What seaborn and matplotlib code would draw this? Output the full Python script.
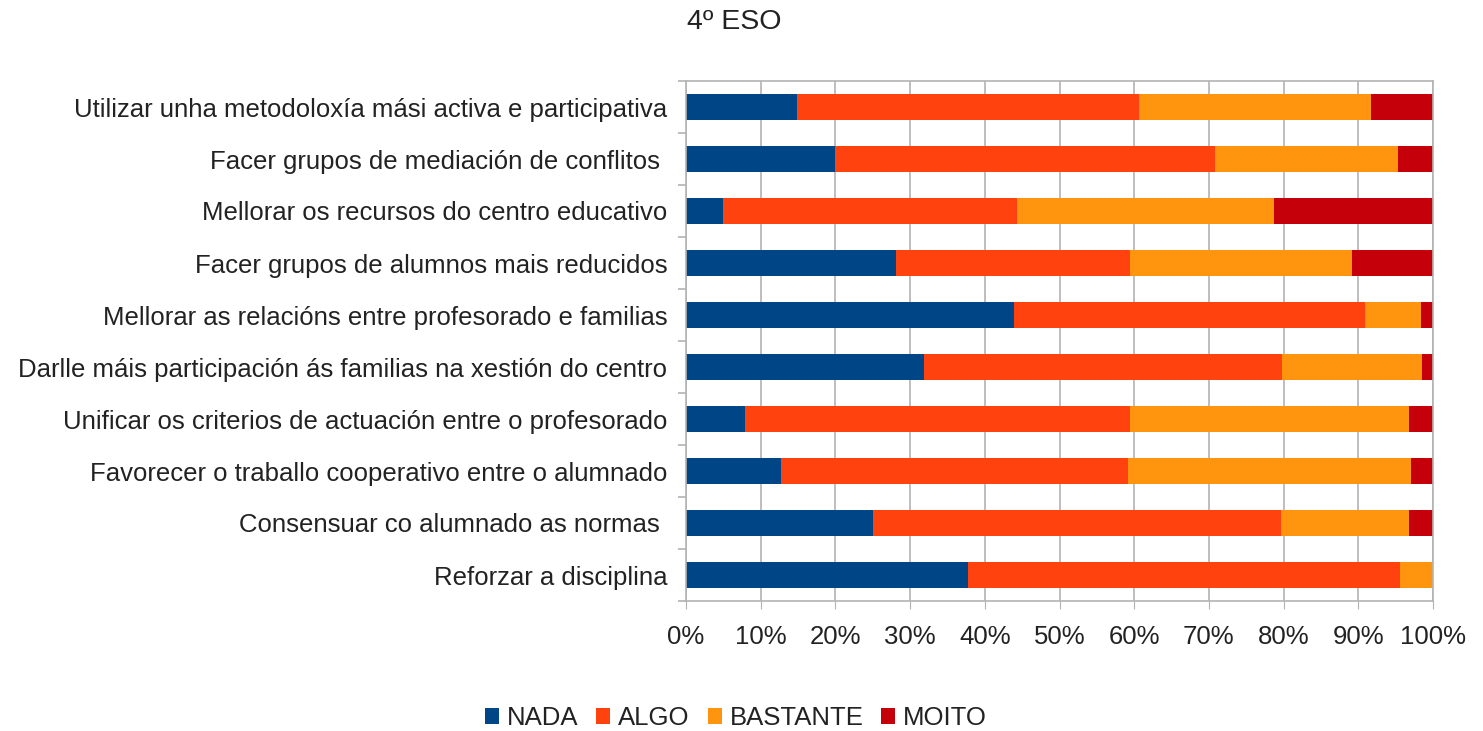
import pandas as pd
import matplotlib
matplotlib.use("Agg")
import matplotlib.pyplot as plt
from matplotlib.patches import Patch
from matplotlib.ticker import FixedLocator, PercentFormatter
import seaborn as sns

# ------------------------------------------------ Datos ------------------------------------------------

categorias = [
    "Utilizar unha metodoloxía mási activa e participativa",
    "Facer grupos de mediación de conflitos ",
    "Mellorar os recursos do centro educativo",
    "Facer grupos de alumnos mais reducidos",
    "Mellorar as relacións entre profesorado e familias",
    "Darlle máis participación ás familias na xestión do centro",
    "Unificar os criterios de actuación entre o profesorado",
    "Favorecer o traballo cooperativo entre o alumnado",
    "Consensuar co alumnado as normas ",
    "Reforzar a disciplina",
]
nada = [14.8, 20.0, 5.0, 28.1, 43.9, 31.8, 7.9, 12.7, 25.0, 37.7]
algo = [45.9, 50.8, 39.3, 31.4, 47.0, 48.0, 51.6, 46.5, 54.7, 57.9]
bastante = [31.0, 24.5, 34.4, 29.6, 7.5, 18.7, 37.3, 37.9, 17.1, 4.4]
moito = [8.3, 4.7, 21.3, 10.9, 1.6, 1.5, 3.2, 2.9, 3.2, 0.0]

series = ["NADA", "ALGO", "BASTANTE", "MOITO"]
colores = ["#004586", "#ff420e", "#ff950e", "#c5000b"]

df = pd.DataFrame({"Pregunta": categorias, "NADA": nada, "ALGO": algo,
                   "BASTANTE": bastante, "MOITO": moito})
# normalizar a 100 % como fai o gráfico apilado
tot = df[series].sum(axis=1)
df[series] = df[series].div(tot, axis=0) * 100
acum = df[series].cumsum(axis=1)

# ------------------------------------------------ Gráfico ------------------------------------------------

sns.set_style("white")
plt.rcParams["font.family"] = ["Liberation Sans", "DejaVu Sans"]

fig = plt.figure(figsize=(14.83, 7.31), dpi=100)
ax = fig.add_axes([686 / 1483, 1 - 601 / 731, (1433 - 686) / 1483, 520 / 731])

# barras apiladas: debuxar de maior a menor acumulado
for serie, color in reversed(list(zip(series, colores))):
    sns.barplot(x=acum[serie], y=df["Pregunta"], orient="h", color=color,
                width=0.5, linewidth=0, saturation=1, ax=ax, zorder=2)

ax.set_xlim(0, 100)
ax.set_ylim(len(categorias) - 0.5, -0.5)
ax.xaxis.set_major_locator(FixedLocator(range(0, 101, 10)))
ax.xaxis.set_major_formatter(PercentFormatter(decimals=0))
ax.grid(axis="x", color="#b3b3b3", linewidth=1.2)
ax.set_axisbelow(True)
ax.set_xlabel("")
ax.set_ylabel("")

for s in ax.spines.values():
    s.set_color("#b3b3b3")
    s.set_linewidth(1.2)

ax.tick_params(axis="x", which="major", length=6, color="#b3b3b3", labelsize=18.5,
               pad=11, labelcolor="#222222", bottom=True)
ax.tick_params(axis="y", which="major", length=0, labelsize=18.5, pad=13.5,
               labelcolor="#222222")
ax.yaxis.set_minor_locator(FixedLocator([i + 0.5 for i in range(-1, len(categorias))]))
ax.tick_params(axis="y", which="minor", length=6, color="#b3b3b3", width=1.2, left=True)

fig.text(734 / 1483, 1 - 22 / 731, "4º ESO", ha="center", va="center",
         fontsize=20.5, color="#222222")

handles = [Patch(facecolor=c, edgecolor="none", label=s) for s, c in zip(series, colores)]
fig.legend(handles=handles, loc="center", bbox_to_anchor=(736 / 1483, 1 - 718 / 731),
           ncol=4, frameon=False, fontsize=18.5, handlelength=0.55, handleheight=0.55,
           handletextpad=0.3, columnspacing=0.7, labelcolor="#222222")

fig.savefig("out.png", dpi=100)
